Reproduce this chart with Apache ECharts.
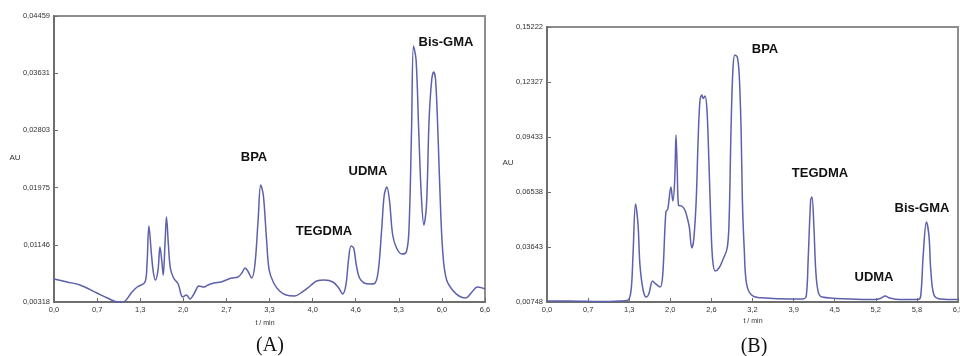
<!DOCTYPE html>
<html>
<head>
<meta charset="utf-8">
<script src="https://cdn.jsdelivr.net/npm/echarts@6/dist/echarts.min.js"></script>
<style>
html,body{margin:0;padding:0;background:#fff;}
#c{width:960px;height:356px;}
</style>
</head>
<body>
<div id="c"></div>
<script>
// ---- Panel A data (t / min, AU) ----
const tA = [0,0.20,0.40,0.66,0.82,0.98,1.06,1.20,1.28,1.40,1.43,1.46,1.50,1.53,1.56,1.60,1.63,1.66,1.68,1.71,1.73,1.76,1.79,1.84,1.91,1.98,2.04,2.09,2.16,2.23,2.31,2.37,2.46,2.57,2.65,2.73,2.83,2.89,2.94,2.99,3.04,3.09,3.14,3.18,3.22,3.27,3.31,3.38,3.47,3.57,3.70,3.82,3.94,4.04,4.16,4.29,4.38,4.44,4.49,4.53,4.57,4.61,4.65,4.70,4.77,4.87,4.94,4.99,5.04,5.08,5.12,5.16,5.21,5.27,5.35,5.42,5.46,5.50,5.53,5.57,5.61,5.65,5.69,5.73,5.77,5.81,5.84,5.87,5.91,5.95,5.99,6.04,6.13,6.23,6.33,6.43,6.51,6.59,6.63];
const auA = [0.00651,0.00608,0.00564,0.00448,0.00376,0.00318,0.00318,0.00463,0.00535,0.00608,0.00854,0.01418,0.00998,0.00738,0.00637,0.00781,0.01114,0.00897,0.00709,0.01216,0.01548,0.01143,0.00810,0.00665,0.00579,0.00390,0.00419,0.00361,0.00448,0.00550,0.00535,0.00564,0.00593,0.00608,0.00637,0.00665,0.00680,0.00738,0.00810,0.00752,0.00665,0.00854,0.01505,0.02012,0.01867,0.01215,0.00781,0.00593,0.00477,0.00419,0.00405,0.00463,0.00550,0.00622,0.00637,0.00608,0.00521,0.00434,0.00564,0.00926,0.01129,0.01100,0.00854,0.00665,0.00593,0.00579,0.00593,0.00781,0.01360,0.01867,0.01983,0.01795,0.01288,0.01100,0.01013,0.01042,0.01360,0.02808,0.04024,0.03821,0.02808,0.01867,0.01433,0.01722,0.02953,0.03532,0.03648,0.03532,0.02663,0.01577,0.00926,0.00637,0.00492,0.00405,0.00376,0.00463,0.00535,0.00521,0.00506];
const xTicksA = [0,0.663,1.326,1.989,2.652,3.315,3.978,4.641,5.304,5.967,6.63];
const xLabelsA = ['0,0','0,7','1,3','2,0','2,7','3,3','4,0','4,6','5,3','6,0','6,6'];
const yTicksA = [0.00318,0.01146,0.01975,0.02803,0.03631,0.04459];
const yLabelsA = ['0,00318','0,01146','0,01975','0,02803','0,03631','0,04459'];

// ---- Panel B data ----
const tB = [0,0.36,0.84,1.15,1.28,1.33,1.36,1.40,1.44,1.47,1.52,1.57,1.61,1.67,1.72,1.79,1.83,1.88,1.91,1.96,1.99,2.02,2.04,2.06,2.08,2.13,2.18,2.21,2.25,2.29,2.32,2.36,2.39,2.42,2.45,2.47,2.50,2.53,2.56,2.59,2.62,2.66,2.72,2.78,2.85,2.88,2.91,2.94,2.97,3.01,3.04,3.07,3.09,3.12,3.16,3.26,3.45,3.84,4.05,4.10,4.13,4.17,4.19,4.22,4.25,4.29,4.35,4.79,5.19,5.27,5.35,5.42,5.58,5.87,5.91,5.95,6.00,6.04,6.07,6.12,6.22,6.50];
const auB = [0.0080,0.0080,0.0077,0.0080,0.0085,0.0138,0.0322,0.0591,0.0480,0.0270,0.0138,0.0101,0.0117,0.0185,0.0170,0.0154,0.0217,0.0549,0.0564,0.0680,0.0606,0.0717,0.0954,0.0770,0.0585,0.0580,0.0559,0.0528,0.0470,0.0359,0.0401,0.0612,0.0928,0.1138,0.1164,0.1146,0.1159,0.1085,0.0822,0.0507,0.0296,0.0238,0.0254,0.0296,0.0359,0.0506,0.0980,0.1296,0.1375,0.1364,0.1270,0.0980,0.0612,0.0349,0.0164,0.0106,0.0096,0.0091,0.0091,0.0106,0.0296,0.0612,0.0627,0.0480,0.0243,0.0127,0.0101,0.0091,0.0088,0.0093,0.0106,0.0096,0.0088,0.0088,0.0106,0.0322,0.0496,0.0427,0.0243,0.0112,0.0091,0.0088];
const xTicksB = [0,0.65,1.3,1.95,2.6,3.25,3.9,4.55,5.2,5.85,6.5];
const xLabelsB = ['0,0','0,7','1,3','2,0','2,6','3,2','3,9','4,5','5,2','5,8','6,5'];
const yTicksB = [0.00748,0.03643,0.06538,0.09433,0.12327,0.15222];
const yLabelsB = ['0,00748','0,03643','0,06538','0,09433','0,12327','0,15222'];

const peakLabelsA = ['BPA','TEGDMA','UDMA','Bis-GMA'];
const peakLabelsB = ['BPA','TEGDMA','UDMA','Bis-GMA'];

function lab(ticks, labels){
  return function(v){
    let bi=0, bd=Infinity;
    for(let i=0;i<ticks.length;i++){const d=Math.abs(ticks[i]-v); if(d<bd){bd=d;bi=i;}}
    return labels[bi];
  };
}
const LINE='#5d60aa', AX='#6e6e6e', FR='#8e8e8e', TXT='#333';
const font = 'Liberation Sans, Arial, sans-serif';

function xAxis(idx, ticks, labels, max){
  return {type:'value', gridIndex:idx, min:0, max:max,
    axisLine:{show:true, onZero:false, lineStyle:{color:AX,width:2}},
    axisTick:{show:true, inside:true, length:4, customValues:ticks, lineStyle:{color:AX,width:1}},
    axisLabel:{show:true, customValues:ticks, formatter:lab(ticks,labels), fontSize:7.5, color:TXT, fontFamily:font, margin:4, showMinLabel:true, showMaxLabel:true, hideOverlap:false},
    splitLine:{show:false}};
}
function yAxis(idx, ticks, labels){
  return {type:'value', gridIndex:idx, min:ticks[0], max:ticks[ticks.length-1],
    axisLine:{show:true, onZero:false, lineStyle:{color:AX,width:2}},
    axisTick:{show:true, inside:true, length:4, customValues:ticks, lineStyle:{color:AX,width:1}},
    axisLabel:{show:true, customValues:ticks, formatter:lab(ticks,labels), fontSize:7.5, color:TXT, fontFamily:font, margin:4, showMinLabel:true, showMaxLabel:true, hideOverlap:false},
    splitLine:{show:false}};
}
function pairs(t,a){return t.map((v,i)=>[v,a[i]]);}
function t2(x,y,s,f){ return {type:'text', x:x, y:y, style:{text:s, fill:'#111', font:f, align:'center', verticalAlign:'middle'}}; }

const chart = echarts.init(document.getElementById('c'), null, {renderer:'canvas'});
chart.setOption({
  animation:false,
  backgroundColor:'#fff',
  grid:[
    {left:54, top:16, right:475, bottom:54, show:true, borderColor:FR, borderWidth:2, backgroundColor:'transparent', containLabel:false, outerBoundsMode:'none'},
    {left:547, top:27, right:2, bottom:54, show:true, borderColor:FR, borderWidth:2, backgroundColor:'transparent', containLabel:false, outerBoundsMode:'none'}
  ],
  xAxis:[xAxis(0,xTicksA,xLabelsA,6.63), xAxis(1,xTicksB,xLabelsB,6.5)],
  yAxis:[yAxis(0,yTicksA,yLabelsA), yAxis(1,yTicksB,yLabelsB)],
  series:[
    {type:'line', xAxisIndex:0, yAxisIndex:0, data:pairs(tA,auA), showSymbol:false, smooth:0.35, lineStyle:{color:LINE,width:1.5}},
    {type:'line', xAxisIndex:1, yAxisIndex:1, data:pairs(tB,auB), showSymbol:false, smooth:0.35, lineStyle:{color:LINE,width:1.5}}
  ],
  graphic:[
    t2(254,157,peakLabelsA[0],'bold 13px '+font),
    t2(324,231,peakLabelsA[1],'bold 13px '+font),
    t2(368,171,peakLabelsA[2],'bold 13px '+font),
    t2(446,42,peakLabelsA[3],'bold 13px '+font),
    t2(765,49,peakLabelsB[0],'bold 13px '+font),
    t2(820,173,peakLabelsB[1],'bold 13px '+font),
    t2(874,277,peakLabelsB[2],'bold 13px '+font),
    t2(922,208,peakLabelsB[3],'bold 13px '+font),
    {type:'text', x:15, y:158, style:{text:'AU', fill:TXT, font:'8px '+font, align:'center', verticalAlign:'middle'}},
    {type:'text', x:508, y:163, style:{text:'AU', fill:TXT, font:'8px '+font, align:'center', verticalAlign:'middle'}},
    {type:'text', x:265, y:323, style:{text:'t / min', fill:TXT, font:'7px '+font, align:'center', verticalAlign:'middle'}},
    {type:'text', x:753, y:321, style:{text:'t / min', fill:TXT, font:'7px '+font, align:'center', verticalAlign:'middle'}},
    {type:'text', x:270, y:346, style:{text:'(A)', fill:'#111', font:'20px "Liberation Serif", "Times New Roman", serif', align:'center', verticalAlign:'middle'}},
    {type:'text', x:754, y:347, style:{text:'(B)', fill:'#111', font:'20px "Liberation Serif", "Times New Roman", serif', align:'center', verticalAlign:'middle'}}
  ]
});
</script>
</body>
</html>
